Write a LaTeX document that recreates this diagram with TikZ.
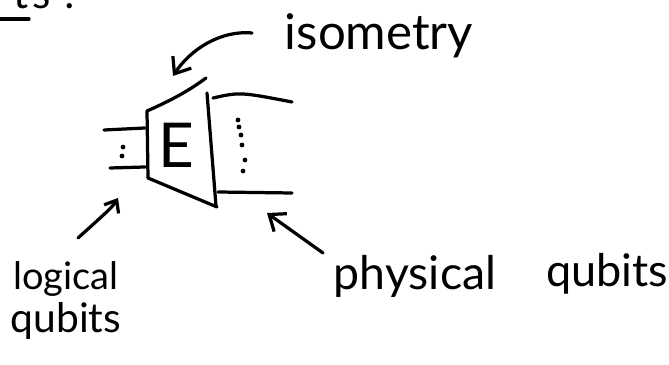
\documentclass[tikz,border=0pt]{standalone}
\usepackage{fontspec}
\setmainfont{Lato}
\usetikzlibrary{arrows.meta}
\definecolor{corTinta}{RGB}{0,0,0}

\begin{document}
\begin{tikzpicture}[x=0.025cm, y=-0.025cm,
    ink/.style={draw=corTinta, line width=2.3pt, line cap=round, line join=round},
    seta/.style={ink, -{Straight Barb[length=3.5mm, width=5.5mm]}},
    setaPequena/.style={ink, -{Straight Barb[length=2.6mm, width=4.2mm]}},
    handLabel/.style={text=corTinta, inner sep=0pt, anchor=base}]

  \useasboundingbox (0,0) rectangle (669,365);

  %% ================================================================
  %%  FRAGMENTO DO TITULO (cortado pela borda)
  %% ================================================================
  \node[handLabel, anchor=base west, font=\fontsize{30}{30}\selectfont]
        (cabecalho) at (13,9) {t\kern3pt s\kern10pt:};
  \draw[ink] (-5,19) -- (29,19);

  %% ================================================================
  %%  ISOMETRIA E
  %% ================================================================
  % fios logicos (esquerda)
  \draw[ink] (104,130) -- (145,128);
  \draw[ink] (110,168) -- (145,167);
  \fill[corTinta] (123,147) circle[radius=1.7pt];
  \fill[corTinta] (122,156) circle[radius=1.7pt];

  % trapezio
  \coordinate (cantoSE) at (147,111);
  \coordinate (cantoIE) at (148,178);
  \coordinate (cantoSD) at (207,93);
  \coordinate (cantoID) at (216,206);
  \draw[ink] (cantoIE) -- (cantoSE) .. controls (172,100) and (190,90) .. (206,78);
  \draw[ink] (cantoSD) -- (cantoID);
  \draw[ink] (cantoIE) -- (217,207);
  \node[handLabel, anchor=center, font=\fontsize{44}{44}\selectfont]
        (letraE) at (176,145) {E};

  % fios fisicos (direita)
  \draw[ink] (213,98) .. controls (240,92) .. (292,102);
  \draw[ink] (218,192) -- (292,193);
  \foreach \px/\py in {238/120, 239/127, 241/135, 242/145, 245/160, 243/171}
    \fill[corTinta] (\px,\py) circle[radius=1.7pt];

  %% ================================================================
  %%  ROTULOS
  %% ================================================================
  \node[handLabel, font=\fontsize{35}{35}\selectfont] (isometria) at (379,50) {isometry};
  \node[handLabel, font=\fontsize{27}{27}\selectfont] (logico)    at (66,290)  {logical};
  \node[handLabel, font=\fontsize{29}{29}\selectfont] (qubitsL)   at (66,333)  {qubits};
  \node[handLabel, font=\fontsize{33}{33}\selectfont] (fisico)    at (415,290) {physical};
  \node[handLabel, font=\fontsize{32}{32}\selectfont] (qubitsF)   at (607,287) {qubits};

  %% ================================================================
  %%  SETAS
  %% ================================================================
  \coordinate (isoCauda) at (252,33);
  \coordinate (isoPonta) at (173,76);
  \draw[seta] (isoCauda) .. controls (220,30) and (190,50) .. (isoPonta);

  \coordinate (logCauda) at (78,238);
  \coordinate (logPonta) at (118,198);
  \draw[setaPequena] (logCauda) .. controls (100,218) and (112,208) .. (logPonta);

  \coordinate (fisCauda) at (323,253);
  \coordinate (fisPonta) at (267,213);
  \draw[seta] (fisCauda) -- (fisPonta);

\end{tikzpicture}
\end{document}
